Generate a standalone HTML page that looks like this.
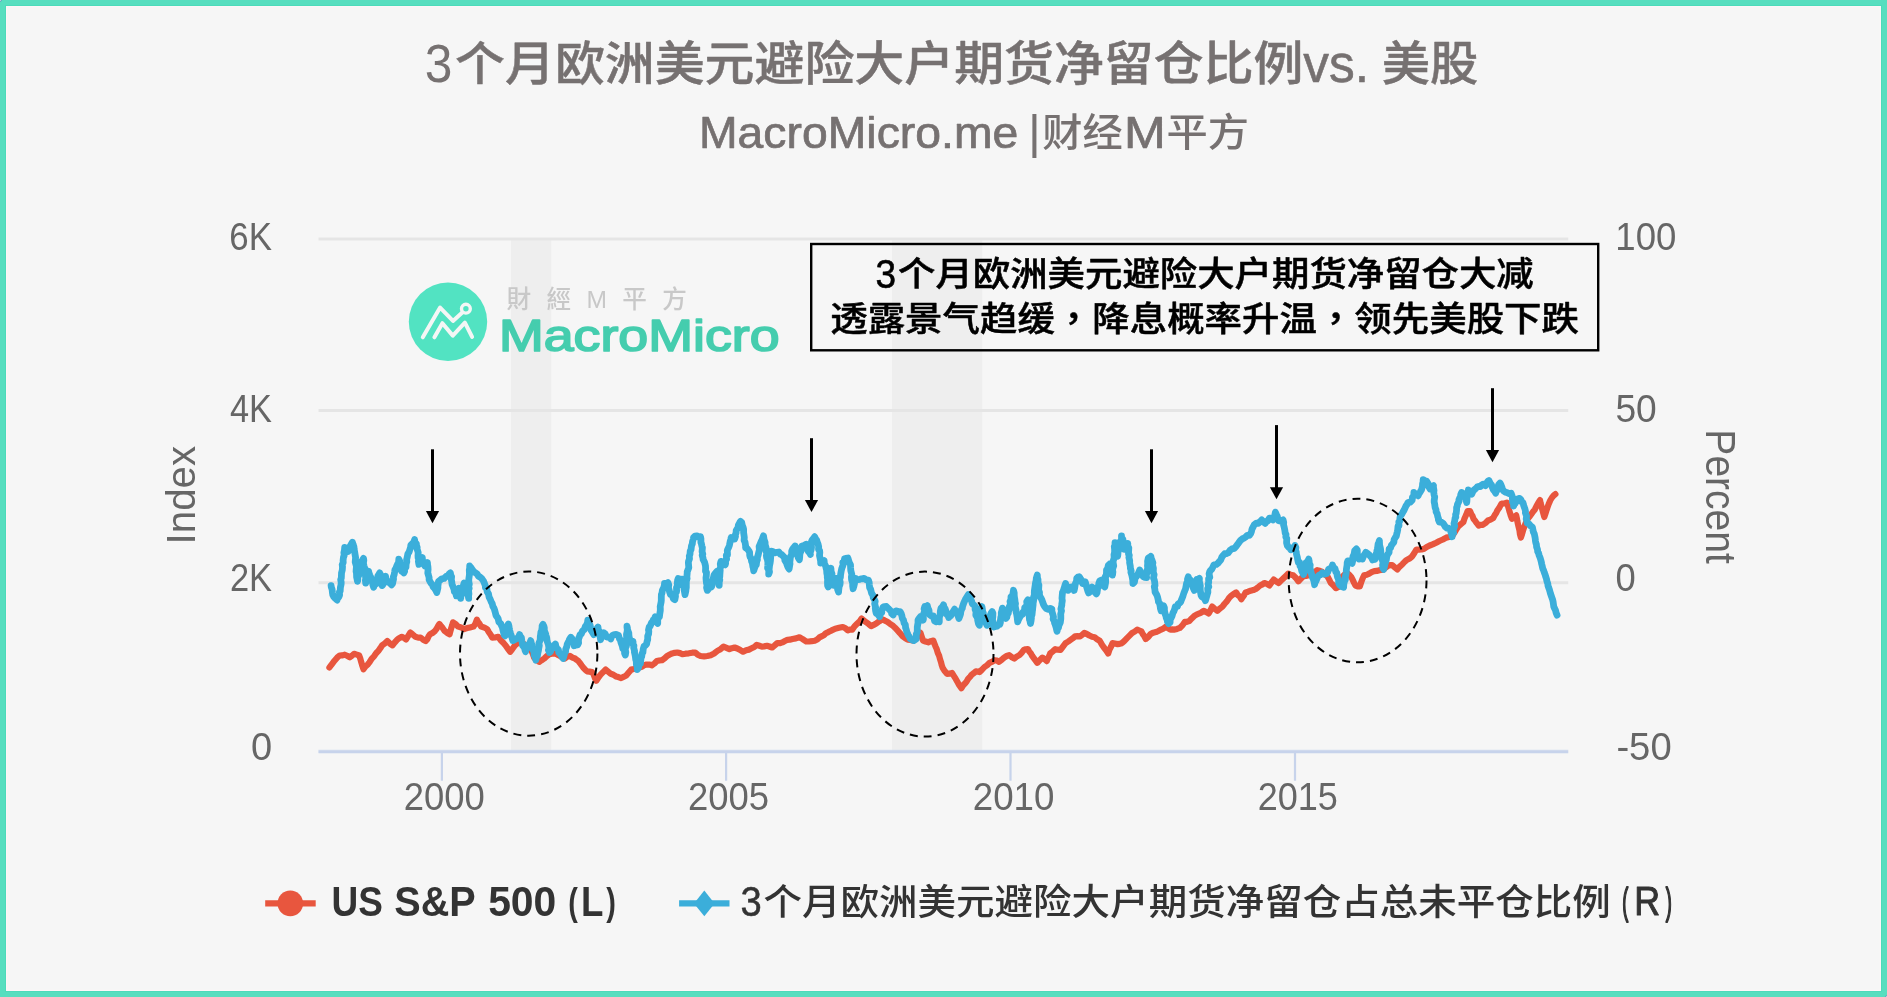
<!DOCTYPE html>
<html lang="zh-CN"><head><meta charset="utf-8"><title>3个月欧洲美元避险大户期货净留仓比例vs. 美股</title>
<style>html,body{margin:0;padding:0;background:#57DEBF}svg{display:block;will-change:transform}text{font-family:'Liberation Sans','Noto Sans CJK SC',sans-serif}</style></head><body>
<svg width="1887" height="997" viewBox="0 0 1887 997">
<rect x="0" y="0" width="1887" height="997" fill="#57DEBF"/>
<rect x="5.5" y="5.5" width="1876" height="986" fill="none" stroke="#4CDBBA" stroke-width="1"/>
<rect x="6" y="6" width="1875" height="985" fill="#FCF6F8"/>
<rect x="7.2" y="7.2" width="1872.6" height="982.6" fill="#F6F6F6"/>
<circle cx="0" cy="0" r="1.4" fill="#fff" stroke="#5B8DB8" stroke-width="0.9"/>
<circle cx="1887" cy="997" r="1.4" fill="#fff" stroke="#5B8DB8" stroke-width="0.9"/>
<text x="424.86" y="82.00" font-size="54.45" fill="#767171" textLength="27.63" lengthAdjust="spacingAndGlyphs">3</text>
<text x="455.11" y="80.00" font-size="46.30" font-weight="500" fill="#767171" stroke="#767171" stroke-width="0.45" stroke-linejoin="round" textLength="848.34" lengthAdjust="spacingAndGlyphs">个月欧洲美元避险大户期货净留仓比例</text>
<text x="1303.21" y="82.00" font-size="53.00" fill="#767171" stroke="#767171" stroke-width="0.60" stroke-linejoin="round" textLength="65.79" lengthAdjust="spacingAndGlyphs">vs.</text>
<text x="1381.66" y="80.00" font-size="46.30" font-weight="500" fill="#767171" stroke="#767171" stroke-width="0.45" stroke-linejoin="round" textLength="96.59" lengthAdjust="spacingAndGlyphs">美股</text>
<text x="699.00" y="148.00" font-size="44.00" fill="#767171" stroke="#767171" stroke-width="0.70" stroke-linejoin="round" textLength="319.28" lengthAdjust="spacingAndGlyphs">MacroMicro.me</text>
<text x="1027.95" y="148.00" font-size="47.01" fill="#767171" textLength="12.81" lengthAdjust="spacingAndGlyphs">|</text>
<text x="1042.34" y="146.00" font-size="38.90" font-weight="500" fill="#767171" textLength="80.43" lengthAdjust="spacingAndGlyphs">财经</text>
<text x="1123.95" y="148.00" font-size="44.00" fill="#767171" stroke="#767171" stroke-width="0.70" stroke-linejoin="round" textLength="41.73" lengthAdjust="spacingAndGlyphs">M</text>
<text x="1166.45" y="146.00" font-size="38.26" font-weight="500" fill="#767171" textLength="82.43" lengthAdjust="spacingAndGlyphs">平方</text>
<rect x="511" y="240" width="40.2" height="510.5" fill="#EEEEEE"/>
<rect x="892" y="240" width="90.3" height="510.5" fill="#EEEEEE"/>
<line x1="318.5" y1="238.9" x2="1568.2" y2="238.9" stroke="#E5E5E5" stroke-width="3"/>
<line x1="318.5" y1="410.6" x2="1568.2" y2="410.6" stroke="#E5E5E5" stroke-width="3"/>
<line x1="318.5" y1="582.8" x2="1568.2" y2="582.8" stroke="#E5E5E5" stroke-width="3"/>
<line x1="318.5" y1="751.6" x2="1568.2" y2="751.6" stroke="#C7D3EB" stroke-width="4.2" stroke-opacity="0.35"/>
<line x1="318.5" y1="751.6" x2="1568.2" y2="751.6" stroke="#C7D3EB" stroke-width="2.6"/>
<line x1="441.9" y1="751.6" x2="441.9" y2="780.7" stroke="#C7D3EB" stroke-width="2.2"/>
<line x1="726.1" y1="751.6" x2="726.1" y2="780.7" stroke="#C7D3EB" stroke-width="2.2"/>
<line x1="1010.5" y1="751.6" x2="1010.5" y2="780.7" stroke="#C7D3EB" stroke-width="2.2"/>
<line x1="1295.0" y1="751.6" x2="1295.0" y2="780.7" stroke="#C7D3EB" stroke-width="2.2"/>
<text x="229.26" y="250.00" font-size="38.00" fill="#666" textLength="42.65" lengthAdjust="spacingAndGlyphs">6K</text>
<text x="230.01" y="422.00" font-size="38.00" fill="#666" textLength="41.99" lengthAdjust="spacingAndGlyphs">4K</text>
<text x="229.91" y="591.00" font-size="38.00" fill="#666" textLength="42.11" lengthAdjust="spacingAndGlyphs">2K</text>
<text x="251.00" y="760.00" font-size="38.00" fill="#666" textLength="21.14" lengthAdjust="spacingAndGlyphs">0</text>
<text x="1615.31" y="250.00" font-size="38.00" fill="#666" textLength="61.04" lengthAdjust="spacingAndGlyphs">100</text>
<text x="1615.38" y="422.00" font-size="38.00" fill="#666" textLength="41.36" lengthAdjust="spacingAndGlyphs">50</text>
<text x="1615.49" y="591.00" font-size="38.00" fill="#666" textLength="20.24" lengthAdjust="spacingAndGlyphs">0</text>
<text x="1616.40" y="760.00" font-size="38.00" fill="#666" textLength="55.26" lengthAdjust="spacingAndGlyphs">-50</text>
<text x="403.80" y="810.00" font-size="38.00" fill="#666" textLength="81.06" lengthAdjust="spacingAndGlyphs">2000</text>
<text x="687.89" y="810.00" font-size="38.00" fill="#666" textLength="81.04" lengthAdjust="spacingAndGlyphs">2005</text>
<text x="972.76" y="810.00" font-size="38.00" fill="#666" textLength="81.62" lengthAdjust="spacingAndGlyphs">2010</text>
<text x="1257.64" y="810.00" font-size="38.00" fill="#666" textLength="80.17" lengthAdjust="spacingAndGlyphs">2015</text>
<text transform="translate(195.4 495.2) rotate(-90)" font-size="40.5" fill="#666666" text-anchor="middle" textLength="98.5" lengthAdjust="spacingAndGlyphs">Index</text>
<text transform="translate(1706.3 496.6) rotate(90)" font-size="42.5" fill="#666666" text-anchor="middle" textLength="134.5" lengthAdjust="spacingAndGlyphs">Percent</text>
<g id="logo">
<circle cx="448" cy="321.8" r="39.2" fill="#52E3C2"/>
<polyline points="422.8,337.3 440.1,307.6 453,320.9 462.3,312.6" fill="none" stroke="#F4F6F5" stroke-width="4" stroke-linecap="round" stroke-linejoin="round"/>
<polyline points="434.4,337.3 442.4,323.2 452.8,335.6 464.9,322.6 472.1,336.9" fill="none" stroke="#F4F6F5" stroke-width="4" stroke-linecap="round" stroke-linejoin="round"/>
<circle cx="465.9" cy="308.7" r="4.4" fill="#52E3C2" stroke="#F4F6F5" stroke-width="3.4"/>
<text x="506.51" y="308.00" font-size="24.60" font-weight="500" fill="#C8C8C8" lang="zh-Hant" style="font-family:'Liberation Sans','Noto Sans CJK TC',sans-serif" textLength="180.27" lengthAdjust="spacing">財經M平方</text>
<text x="498.97" y="351.00" font-size="45.27" fill="#45CDAE" stroke="#45CDAE" stroke-width="1.70" stroke-linejoin="round" textLength="280.63" lengthAdjust="spacingAndGlyphs">MacroMicro</text>
</g>
<polyline points="329.4,667.5 331.0,665.3 332.7,663.1 334.5,660.7 337.1,657.7 339.6,655.5 341.9,655.4 344.7,654.7 347.1,655.8 349.8,657.3 352.2,655.5 354.1,653.8 356.8,654.6 359.2,655.5 360.3,658.6 361.4,662.7 362.4,666.0 363.5,669.2 365.5,666.5 367.5,664.7 369.4,662.4 371.6,658.8 374.2,656.1 376.3,653.0 378.4,650.8 380.3,648.2 382.2,645.3 384.7,643.5 387.3,641.1 389.9,643.6 392.5,645.3 394.8,642.4 396.7,640.2 399.1,638.2 401.8,636.8 404.2,638.0 406.1,639.4 407.6,636.9 409.0,634.7 410.4,632.5 412.9,634.7 415.5,636.8 418.1,637.6 420.6,637.6 423.2,639.7 425.7,641.1 427.3,639.2 428.6,636.2 430.0,634.2 432.7,632.9 435.1,630.8 436.7,628.6 438.1,626.0 439.4,624.0 441.2,626.3 442.7,628.1 444.5,630.8 447.2,632.9 449.6,634.2 450.3,631.5 451.3,627.9 452.1,625.5 453.0,622.3 455.7,624.0 458.1,626.6 461.2,627.4 464.1,629.1 467.1,628.1 470.0,627.4 473.5,626.6 475.4,623.6 476.9,619.7 478.3,622.4 479.6,623.9 481.1,626.6 484.1,627.4 487.1,629.1 488.7,631.9 490.5,634.5 492.2,637.6 495.0,637.5 498.2,636.8 500.7,640.2 503.3,642.8 505.8,645.7 507.9,648.8 510.2,651.7 512.0,649.5 513.6,647.3 515.3,644.9 518.1,642.8 520.5,640.6 523.0,643.3 525.6,645.7 528.0,647.2 530.7,649.1 532.0,652.0 533.0,654.3 534.1,657.6 536.6,659.8 539.2,661.9 541.5,660.3 544.3,658.5 546.9,656.0 549.4,654.2 552.1,653.8 554.6,653.4 557.2,654.5 559.7,655.9 562.3,657.4 564.8,658.5 567.1,656.8 569.9,655.9 572.5,657.6 575.0,658.5 576.6,659.8 578.4,661.1 580.1,663.2 581.7,665.5 583.5,667.9 585.2,669.7 587.0,671.3 589.5,671.6 592.1,672.1 593.6,674.5 594.9,678.0 596.3,680.7 598.4,677.5 600.6,674.7 603.3,671.9 605.7,669.6 608.1,671.6 610.8,673.8 613.4,674.7 615.9,676.4 618.4,677.1 621.1,678.1 623.8,676.7 626.2,675.5 628.9,672.3 631.3,669.6 633.8,668.9 636.4,667.9 639.1,667.4 641.5,667.0 643.9,665.4 646.6,664.5 649.2,664.6 651.7,665.3 654.4,663.5 656.9,661.1 659.3,660.5 662.0,660.2 664.7,658.2 667.1,655.9 669.8,654.5 672.2,653.4 674.6,652.8 677.3,652.5 680.0,653.1 682.4,654.2 685.6,653.7 688.8,653.3 692.3,652.7 695.3,652.6 697.7,654.7 700.5,656.0 704.1,656.4 707.3,656.0 710.7,655.2 714.1,653.5 717.4,650.9 720.5,649.2 723.5,646.6 726.5,647.9 729.4,649.2 731.9,648.2 734.6,647.5 737.3,648.5 740.3,650.1 743.1,651.7 746.1,650.2 748.9,649.6 751.6,648.3 754.3,647.0 756.7,644.9 759.4,645.8 761.8,646.6 764.2,646.4 767.0,645.8 769.4,646.5 772.1,647.5 774.7,645.4 777.2,643.2 779.7,643.2 782.3,642.4 784.9,641.0 787.4,639.8 789.8,639.7 792.5,639.0 795.9,638.4 799.4,637.3 802.7,639.1 806.2,641.5 809.0,641.5 811.7,641.2 814.7,640.7 817.2,639.5 819.4,637.4 821.5,636.4 823.8,635.3 825.8,633.3 828.3,632.1 831.6,630.4 835.2,628.7 839.0,627.8 842.8,627.0 845.5,628.3 847.9,630.4 849.8,629.7 852.2,629.6 854.6,626.2 857.3,623.6 859.7,621.4 861.6,618.5 863.5,620.2 865.8,621.9 868.4,623.8 871.1,626.1 873.6,624.9 876.2,623.5 879.2,621.3 882.2,619.3 884.6,620.4 887.3,621.8 889.7,623.6 892.4,625.3 895.0,627.7 897.5,630.4 899.9,633.1 902.6,636.3 905.1,638.1 907.7,639.7 910.4,640.0 912.9,640.6 915.6,638.2 918.0,635.5 920.5,632.9 921.3,635.4 922.2,638.2 923.1,640.6 925.6,641.6 928.2,642.3 930.7,641.2 933.3,640.6 934.4,643.6 935.4,646.2 936.7,649.1 937.8,652.9 939.2,655.9 940.1,659.4 941.1,662.5 941.7,665.0 942.7,667.9 944.7,671.1 947.0,673.8 949.6,673.7 952.1,673.0 953.9,676.0 955.6,678.7 957.2,681.5 959.1,685.0 961.4,688.3 962.9,685.7 965.0,683.4 966.6,681.5 968.1,678.9 970.2,676.7 971.7,674.7 973.6,673.3 975.9,671.3 979.4,672.1 981.8,669.9 984.5,667.0 987.1,665.2 989.6,662.8 992.4,661.6 994.7,660.2 997.0,660.6 999.0,661.9 1001.7,659.8 1004.1,657.6 1006.7,656.0 1009.2,655.1 1011.9,657.2 1014.3,658.5 1016.7,656.6 1019.4,655.1 1021.6,652.8 1023.7,650.0 1025.7,649.3 1027.9,649.1 1029.2,651.5 1030.9,653.5 1032.2,655.9 1033.8,658.1 1035.5,660.4 1037.3,662.8 1039.7,660.2 1042.4,657.6 1044.8,659.3 1046.7,661.1 1048.0,658.3 1049.1,656.3 1050.2,653.5 1052.8,651.4 1055.3,649.2 1057.9,649.7 1060.5,650.0 1062.4,647.4 1063.7,645.7 1065.6,643.2 1068.3,641.5 1070.7,639.8 1072.8,638.3 1075.0,636.4 1077.4,636.2 1080.1,636.4 1082.1,634.8 1084.3,633.0 1086.8,634.0 1089.4,635.5 1092.1,636.8 1094.6,637.3 1097.1,639.2 1099.7,640.7 1101.8,644.4 1103.9,647.5 1106.1,650.3 1108.2,653.5 1109.5,649.6 1111.1,646.5 1112.5,643.2 1114.9,643.5 1117.6,644.1 1119.6,643.9 1121.8,643.2 1124.2,641.1 1127.0,638.1 1129.5,635.6 1132.1,633.0 1134.6,631.6 1137.2,629.6 1139.4,630.5 1141.4,631.3 1142.8,634.1 1144.4,636.3 1145.7,639.0 1148.4,636.8 1150.8,633.8 1153.3,632.7 1155.9,632.1 1158.4,631.0 1161.1,629.6 1163.3,628.7 1165.3,627.0 1168.0,628.1 1170.4,629.6 1172.4,629.4 1174.7,629.6 1177.1,628.9 1179.8,627.9 1182.5,625.3 1184.9,621.9 1186.9,621.8 1189.2,621.1 1191.7,618.4 1194.3,615.9 1197.0,614.3 1199.4,613.4 1201.4,612.4 1203.7,610.8 1206.2,612.0 1208.8,613.4 1210.5,610.2 1212.2,606.6 1214.5,608.6 1217.3,610.8 1219.8,608.7 1222.4,606.6 1224.4,604.0 1227.0,601.1 1228.9,598.2 1231.1,595.8 1233.5,594.2 1236.2,592.4 1237.7,595.0 1239.8,596.6 1241.3,599.2 1242.9,596.8 1244.3,594.9 1245.6,592.4 1248.1,591.7 1250.7,590.7 1253.3,590.1 1255.8,589.0 1257.8,587.5 1260.1,585.5 1262.4,584.4 1264.3,583.0 1266.9,583.9 1269.4,585.5 1271.5,582.4 1273.7,579.6 1276.3,581.5 1278.8,583.0 1281.4,580.2 1283.9,577.9 1286.1,575.9 1288.2,573.6 1290.6,574.8 1293.3,575.3 1295.9,578.0 1298.4,581.3 1301.1,578.4 1303.5,576.2 1306.0,575.9 1308.7,575.3 1311.3,574.1 1313.8,572.8 1315.6,571.5 1317.2,570.2 1319.7,570.8 1322.3,571.9 1324.7,574.2 1327.4,576.2 1329.2,579.6 1330.8,583.0 1333.5,585.4 1335.9,588.1 1339.4,586.4 1340.4,582.9 1341.8,579.2 1342.8,576.2 1344.9,574.3 1347.0,572.8 1349.3,574.8 1351.3,577.0 1352.6,579.7 1354.1,582.9 1355.5,585.5 1357.6,586.3 1359.8,586.4 1361.1,582.5 1362.5,578.7 1364.1,575.3 1366.8,574.7 1369.2,573.6 1371.6,572.1 1374.3,571.1 1376.8,570.9 1379.4,570.2 1381.7,570.0 1383.7,569.4 1385.8,567.3 1387.9,565.9 1390.0,565.2 1392.2,565.1 1394.8,567.3 1397.3,569.4 1399.7,566.6 1402.4,564.2 1404.9,561.5 1407.1,559.7 1409.8,558.4 1412.2,556.3 1414.5,552.8 1416.4,549.5 1419.0,549.6 1421.5,549.5 1424.2,548.7 1426.7,547.0 1429.7,545.5 1432.6,544.4 1436.2,542.7 1439.4,541.0 1442.9,539.5 1446.3,537.6 1449.0,537.0 1452.2,535.9 1454.3,532.8 1456.2,529.6 1458.2,526.5 1460.6,524.4 1463.3,522.2 1464.5,518.5 1466.2,514.8 1467.6,511.2 1470.1,511.2 1471.3,514.1 1472.5,515.9 1473.5,518.8 1475.4,521.2 1476.8,523.2 1478.7,525.6 1480.7,524.8 1482.9,524.8 1485.5,523.0 1488.0,520.5 1490.5,519.6 1493.2,518.0 1494.7,515.1 1496.2,513.0 1497.4,510.3 1499.0,508.2 1500.4,505.6 1501.7,503.5 1504.4,503.4 1506.8,502.6 1507.8,505.4 1508.6,508.3 1509.4,511.2 1510.1,513.3 1510.9,516.0 1511.9,518.8 1513.9,517.1 1516.2,515.4 1516.9,518.4 1517.4,521.5 1518.0,524.3 1518.7,527.3 1519.5,530.6 1520.0,534.5 1520.9,537.6 1522.0,534.3 1522.8,531.4 1523.8,528.2 1525.1,524.6 1526.4,521.4 1527.9,518.6 1529.8,516.3 1531.6,513.7 1533.2,511.4 1534.9,509.4 1536.5,506.0 1538.3,502.9 1540.0,500.1 1540.6,503.1 1541.6,506.9 1542.4,509.9 1543.4,513.6 1544.3,517.1 1545.5,513.5 1546.4,510.6 1547.3,507.9 1548.6,504.3 1550.2,500.5 1552.0,497.5 1553.7,495.5 1555.4,494.1" fill="none" stroke="#E8563E" stroke-width="6.2" stroke-linejoin="round" stroke-linecap="round"/>
<polyline points="331.1,585.6 331.3,587.2 332.1,589.4 332.4,592.4 332.8,595.0 333.7,596.7 335.2,598.3 337.1,600.1 337.5,597.5 338.7,597.4 339.6,595.0 339.4,592.0 340.2,591.1 340.4,587.5 341.1,584.3 341.2,582.4 340.7,579.6 341.3,578.0 341.4,576.1 341.5,573.1 342.3,570.0 342.5,566.8 342.2,564.6 343.2,562.5 343.1,560.3 343.5,557.1 344.2,555.4 343.9,552.6 344.4,550.7 344.7,547.3 346.1,548.2 347.5,549.3 348.1,551.5 349.1,549.7 349.9,546.8 350.8,544.9 352.4,542.2 353.2,544.7 353.9,546.6 354.2,549.5 354.6,551.6 355.0,554.1 355.6,557.6 355.4,559.4 355.2,562.0 356.1,565.1 356.5,566.0 356.2,569.4 356.1,571.4 356.5,573.1 356.6,577.0 356.9,578.4 357.5,581.4 357.8,580.0 357.8,576.9 358.7,575.6 359.3,573.4 359.1,570.2 359.6,569.0 360.1,566.0 361.5,563.3 361.4,561.6 362.4,560.3 363.5,558.4 363.8,560.3 363.4,563.2 364.0,566.0 364.9,568.7 364.6,571.0 365.0,572.2 365.5,576.3 365.7,578.8 365.4,580.4 365.7,583.1 365.8,581.0 366.4,577.4 367.1,575.2 367.8,572.6 368.6,571.2 368.9,572.7 369.9,575.4 371.2,578.0 371.3,581.1 372.6,581.9 372.8,584.6 373.7,587.3 374.7,584.2 376.4,583.9 377.1,580.5 377.7,578.6 377.9,575.8 378.9,574.3 379.7,572.9 380.6,574.7 380.2,579.0 381.2,579.7 381.7,582.0 382.2,585.6 383.1,584.3 384.3,581.4 384.5,578.3 385.6,576.3 386.1,578.9 387.4,580.8 388.2,582.2 389.7,582.9 391.6,584.8 392.5,583.8 393.0,581.4 393.5,579.2 393.4,576.7 394.2,574.6 394.7,571.4 394.9,569.8 395.8,568.6 396.7,566.0 397.9,563.6 398.6,562.5 398.8,559.2 399.8,561.3 399.6,563.4 400.1,565.7 401.1,569.7 401.5,571.2 403.1,572.0 403.9,572.9 404.6,571.4 404.5,569.0 406.0,567.1 406.1,564.3 406.8,561.7 406.6,559.8 407.2,557.3 407.8,554.1 409.2,551.8 409.4,551.0 410.6,547.3 410.8,545.2 412.1,543.9 413.8,542.4 414.6,539.6 414.9,542.2 416.4,543.8 416.4,545.5 417.2,547.3 417.0,548.7 418.2,552.5 418.0,555.5 418.1,557.8 418.8,558.8 418.4,561.4 418.9,564.3 419.7,562.2 420.9,559.6 422.3,557.5 422.5,560.5 423.4,561.7 424.3,564.8 424.9,566.0 426.1,565.2 427.4,562.6 427.6,565.1 427.9,566.4 428.1,569.2 427.8,573.0 428.3,574.8 429.1,577.4 429.1,579.7 430.0,581.4 431.4,583.7 432.5,584.8 433.1,586.9 434.4,588.2 436.0,590.6 436.8,592.5 437.2,590.9 437.9,587.9 437.9,585.9 438.2,584.0 438.5,581.4 440.1,580.2 441.9,578.8 444.0,578.5 446.2,576.3 447.8,576.0 449.5,573.5 450.4,572.9 450.9,576.1 451.6,576.6 451.3,579.6 451.7,581.4 452.1,584.6 453.0,586.5 454.2,589.7 454.3,591.7 455.7,592.8 456.4,595.9 457.5,595.0 457.4,593.0 458.2,590.1 459.0,588.2 460.0,591.5 459.5,593.1 460.3,595.5 460.7,598.4 460.9,595.8 461.9,593.0 462.2,591.7 462.1,589.3 463.3,587.5 463.1,586.4 464.1,583.1 465.3,585.8 465.3,586.0 466.6,588.2 466.5,590.9 467.2,591.5 467.8,595.2 468.6,595.8 468.7,598.4 468.4,596.8 468.9,593.9 468.5,589.9 469.2,588.3 468.6,586.9 469.3,584.1 468.8,581.7 468.8,579.3 469.3,575.6 469.5,574.4 469.3,570.2 469.7,567.9 469.7,566.0 470.5,567.0 471.7,568.8 473.5,571.2 475.0,572.5 477.2,574.1 478.6,576.3 480.3,577.3 481.8,578.6 483.7,581.4 484.1,582.4 485.3,585.6 485.4,587.5 486.9,588.7 487.1,591.6 488.5,593.8 489.1,597.1 490.0,598.8 491.4,602.2 492.2,603.5 492.9,606.5 494.1,608.4 494.6,610.0 495.1,611.8 496.0,615.4 497.3,617.2 498.1,618.5 498.9,622.0 500.8,623.7 501.1,624.8 502.4,627.4 502.8,629.4 503.3,631.5 504.1,634.8 505.0,635.9 506.2,633.6 506.1,632.2 506.8,628.4 507.2,626.1 508.4,624.0 509.0,626.4 509.3,628.8 509.7,630.6 510.5,633.3 511.0,634.8 512.0,637.6 512.8,640.6 514.6,639.8 516.2,638.9 517.6,637.8 518.7,636.9 519.6,634.6 520.1,636.1 521.4,637.7 521.8,640.7 522.2,642.3 522.5,645.4 524.3,647.3 525.0,650.0 525.6,651.7 526.0,649.5 527.3,647.9 528.1,644.9 529.7,643.5 530.7,640.6 531.5,643.8 532.3,645.8 532.4,646.7 533.0,649.8 534.1,652.5 534.1,655.2 535.0,656.6 535.5,658.7 535.8,660.2 536.4,656.8 537.4,656.0 537.8,653.2 538.4,650.8 538.9,647.5 539.3,645.6 538.9,643.3 539.9,640.8 540.2,640.2 540.3,636.5 540.6,634.8 540.9,632.1 541.7,630.4 542.1,627.3 542.1,625.8 543.0,624.4 543.9,626.2 544.3,627.8 544.3,630.6 545.6,633.7 546.0,635.5 546.7,637.5 547.0,640.3 547.4,641.9 548.4,644.6 549.0,648.6 548.4,650.0 549.4,652.5 550.6,651.6 551.1,648.1 552.0,646.6 553.4,646.3 555.4,644.0 555.9,646.3 556.7,648.3 558.4,649.6 558.8,652.5 560.6,654.5 562.1,656.9 563.1,658.5 563.6,657.1 564.8,652.9 565.6,651.7 565.7,649.3 566.8,646.6 567.2,644.3 568.2,642.3 568.9,641.3 569.4,639.5 570.8,637.2 572.0,638.5 573.0,641.9 573.8,643.1 574.2,645.7 575.8,645.1 577.6,644.9 578.6,643.0 578.4,640.6 578.9,637.7 579.2,637.4 580.1,634.6 581.3,633.9 582.7,630.7 584.4,629.5 585.3,626.5 586.0,625.8 587.4,623.1 587.8,620.1 588.6,623.1 589.6,624.3 590.1,625.3 590.8,628.2 591.2,630.4 592.8,632.8 593.8,634.6 594.6,631.7 596.4,630.0 596.9,628.6 598.0,627.0 598.3,630.1 599.6,631.6 599.7,634.2 600.1,636.9 600.6,639.7 601.4,636.7 602.5,636.1 604.0,632.9 605.1,633.7 606.7,636.9 607.4,637.2 609.0,637.3 610.8,638.9 611.6,636.6 612.9,635.1 614.2,634.6 616.1,634.5 618.5,635.5 619.4,638.7 620.5,640.0 621.0,642.6 621.9,644.9 622.4,646.6 622.8,648.5 624.5,650.2 624.6,653.3 625.3,655.1 625.8,652.1 625.3,649.7 625.6,647.7 626.4,646.2 626.4,642.0 625.6,641.1 626.7,638.1 626.5,634.7 626.5,634.3 627.1,631.7 627.4,628.0 627.0,626.1 627.0,627.5 627.9,630.8 628.8,633.0 628.9,635.2 629.1,636.9 629.6,638.9 630.8,640.8 633.0,641.4 633.1,644.6 633.9,645.6 633.7,647.8 634.6,651.1 634.4,652.0 635.2,655.5 635.5,657.6 635.7,659.4 636.3,661.3 636.4,664.7 637.4,667.5 637.3,669.6 638.6,667.4 638.7,664.8 640.4,663.7 640.7,661.1 641.0,657.6 641.7,656.7 642.1,653.4 642.9,652.4 643.2,649.1 644.0,646.4 645.3,645.5 646.6,644.0 647.2,640.9 647.7,639.7 647.7,636.1 648.6,633.9 648.8,631.3 648.5,630.0 649.2,627.0 650.1,626.3 651.5,622.8 652.6,621.8 653.2,619.9 654.5,619.4 655.2,616.7 655.6,618.7 656.6,622.3 657.7,623.5 657.7,620.0 658.1,618.2 659.4,616.7 659.7,614.4 660.3,610.4 660.3,608.2 660.2,606.6 661.1,602.1 661.3,600.3 661.3,597.6 661.4,594.4 662.0,592.9 662.4,590.2 663.8,587.4 664.4,585.2 664.5,583.5 666.0,583.8 667.9,582.6 668.8,584.9 668.4,587.3 669.3,590.7 669.6,591.9 670.5,594.6 672.4,595.3 673.3,598.7 674.8,599.7 675.5,596.3 675.0,594.0 676.4,592.1 676.6,591.1 676.5,587.4 677.6,585.8 677.2,583.6 677.6,580.3 678.2,578.4 679.8,579.4 682.4,579.2 683.2,581.7 683.6,582.6 683.2,585.7 684.4,589.0 684.1,589.7 684.6,592.4 685.0,594.6 685.8,591.3 685.9,590.0 686.3,587.5 686.3,584.0 686.3,581.5 687.1,578.4 686.8,577.3 687.2,573.2 687.2,571.7 687.9,570.1 688.8,567.6 688.4,563.0 688.5,561.4 689.5,558.7 689.3,556.1 690.0,554.1 690.2,551.2 691.0,549.7 691.5,545.8 692.3,543.9 692.5,541.8 693.3,539.1 693.6,537.5 695.1,536.1 697.1,535.8 698.4,537.1 700.5,536.7 700.9,538.7 700.9,542.5 701.3,543.2 702.0,546.5 702.4,547.7 702.1,551.6 702.8,554.2 702.2,555.2 703.0,558.0 703.1,559.4 704.6,562.3 705.0,563.8 705.5,566.0 705.6,568.2 705.5,571.3 706.5,572.3 706.3,575.9 706.0,577.8 706.1,579.9 706.5,583.2 707.1,584.8 706.6,587.6 707.3,590.4 708.9,588.6 709.9,587.5 711.5,587.0 712.3,584.7 712.1,581.3 712.9,579.9 713.7,576.5 714.1,575.0 715.0,573.7 716.7,571.6 717.0,573.4 717.3,577.2 717.7,578.6 718.2,580.5 719.2,584.1 719.2,585.3 719.2,582.2 719.8,579.9 719.2,579.0 719.8,576.4 719.9,574.2 720.2,570.2 719.9,568.7 720.7,567.1 720.3,564.1 720.9,561.4 722.2,562.5 723.4,563.2 725.2,564.8 725.6,563.5 725.5,560.4 726.6,559.2 726.3,555.2 727.5,554.8 727.3,550.6 727.7,549.4 728.9,546.8 729.5,544.9 730.2,541.5 730.8,539.3 731.2,537.5 732.8,539.1 734.6,539.2 735.5,536.5 735.3,534.9 736.1,532.8 736.2,530.5 737.1,529.0 738.2,527.9 738.3,525.3 739.9,522.2 740.5,521.3 741.7,522.5 742.3,525.4 743.1,527.3 743.6,529.4 743.6,532.6 744.0,535.3 744.3,537.4 744.1,540.3 745.0,542.0 745.6,545.8 745.6,547.7 747.3,548.7 749.1,551.2 749.6,552.4 749.7,555.1 750.2,557.2 751.1,558.3 751.6,561.4 752.3,562.8 752.9,566.7 753.2,567.5 753.7,570.8 754.5,568.2 755.7,565.3 756.3,564.8 756.7,561.4 757.4,559.7 757.3,557.6 758.1,555.1 759.1,550.9 759.4,550.1 759.1,546.4 760.1,544.3 761.2,541.4 762.2,539.6 763.0,537.1 763.5,535.8 764.0,539.1 764.2,540.0 765.1,542.5 765.1,544.6 766.1,547.7 766.0,551.1 766.8,553.4 766.4,555.6 766.6,557.4 767.4,559.4 767.9,562.3 767.8,565.4 767.6,568.1 768.4,569.1 768.8,571.3 768.7,574.2 769.5,571.8 769.1,569.7 769.5,565.8 770.1,563.0 770.4,560.9 770.5,559.9 770.7,556.7 770.7,552.7 771.2,551.2 772.4,551.3 774.6,552.9 776.9,552.3 778.9,552.0 780.3,554.3 781.4,554.3 783.2,556.3 784.5,557.5 784.9,560.5 786.6,563.1 787.0,564.8 788.0,567.3 789.1,569.1 789.6,565.9 790.0,563.9 789.8,562.4 790.3,558.1 790.5,556.6 791.7,554.4 791.7,551.2 792.7,548.9 793.4,548.1 795.1,546.0 795.9,548.0 796.7,550.4 797.7,553.4 797.7,556.0 798.2,557.5 799.4,559.7 799.7,556.8 799.7,555.7 800.1,553.0 801.6,549.8 801.2,548.5 801.9,546.0 804.1,545.5 806.2,544.3 807.4,545.6 807.7,548.0 808.2,551.3 809.9,553.0 810.4,554.6 810.1,552.9 811.2,549.7 811.5,547.2 811.2,544.1 811.5,541.5 812.1,540.1 813.2,538.9 814.7,536.7 815.8,539.4 816.6,540.0 817.3,542.3 818.1,544.3 818.7,546.7 818.5,549.3 819.6,550.7 819.8,552.6 819.5,555.5 820.3,559.4 820.6,560.4 820.7,563.1 822.8,561.4 824.1,560.5 824.4,563.7 825.5,565.6 826.2,568.6 826.6,569.9 826.8,573.1 827.3,575.6 827.3,577.7 827.6,579.2 827.5,582.4 827.6,585.5 828.3,587.0 828.2,583.6 828.5,583.2 829.1,579.2 829.1,576.6 830.1,575.5 830.5,573.4 830.1,570.7 830.9,568.2 831.1,571.3 832.0,573.9 831.5,576.3 832.8,578.9 832.3,579.8 832.7,581.8 833.5,585.3 834.7,583.7 835.3,581.4 836.0,578.4 836.6,580.2 836.4,582.1 837.6,584.6 837.5,587.4 837.6,589.3 838.6,592.1 838.7,590.0 839.1,586.6 840.0,584.4 840.2,582.1 839.6,579.1 840.4,577.3 840.6,574.6 841.1,571.6 841.7,568.8 842.6,566.4 843.2,564.5 842.8,562.4 844.2,562.0 844.5,558.8 845.7,558.4 847.9,558.0 848.8,560.9 849.3,562.5 850.5,564.8 850.6,567.9 850.8,570.6 851.0,571.3 851.8,574.4 851.4,577.1 851.6,579.8 852.5,582.2 852.7,583.6 852.7,586.1 853.1,588.7 854.0,585.7 854.5,583.5 854.3,582.0 855.5,580.5 855.6,578.4 857.6,579.7 859.9,579.3 861.7,578.8 864.1,578.4 866.3,579.8 868.4,580.1 869.2,582.6 869.3,584.2 869.6,587.5 870.7,589.5 871.1,591.2 871.6,593.2 873.1,595.6 873.2,597.5 874.5,599.7 875.2,601.4 874.7,603.8 875.6,607.3 875.3,608.0 875.6,610.7 876.2,613.3 877.9,614.3 879.6,616.7 880.3,613.7 881.8,612.5 881.7,610.7 883.0,607.3 884.3,606.6 886.4,606.5 888.6,608.8 889.8,609.9 891.2,611.5 891.7,613.6 893.2,615.0 893.9,613.0 895.4,611.2 896.7,610.8 898.3,611.8 900.1,611.6 901.2,613.7 901.9,615.8 902.3,618.2 903.5,620.1 904.1,623.0 905.3,624.7 905.6,627.8 906.1,629.1 906.9,632.1 908.3,635.2 909.5,637.1 910.3,638.9 912.4,640.1 913.7,640.6 915.2,639.6 916.3,638.9 916.3,636.8 916.3,634.0 917.2,632.3 917.3,629.0 917.3,627.1 917.7,624.6 918.0,623.4 918.0,620.1 918.9,618.7 920.5,616.7 922.1,618.2 923.1,620.1 923.4,618.9 923.2,615.7 923.6,613.9 924.7,611.1 924.1,608.9 924.8,606.5 926.1,606.5 927.3,605.6 928.0,608.3 929.0,610.3 929.2,613.6 929.9,615.0 931.3,615.9 933.3,615.9 934.0,618.4 934.6,620.9 935.9,621.8 937.4,620.8 939.3,621.8 939.3,619.3 939.3,617.1 940.1,615.4 940.3,612.2 940.4,611.0 941.0,608.2 942.7,606.6 943.5,604.8 944.1,607.7 945.1,608.7 946.1,611.6 946.6,614.2 948.2,615.9 948.7,617.6 949.8,616.3 950.7,615.8 952.1,613.3 953.2,611.5 954.6,609.1 956.0,612.1 956.7,613.3 957.9,615.3 958.9,618.4 959.9,616.0 960.6,613.8 960.8,611.7 961.5,609.5 962.3,608.2 962.6,606.3 963.8,602.9 964.6,601.1 965.7,598.8 966.9,597.0 968.3,594.6 969.6,596.6 971.0,599.9 971.7,601.4 972.3,603.8 974.4,605.4 975.1,606.5 975.1,609.8 976.1,610.5 975.8,615.1 976.8,616.7 977.6,618.3 977.7,620.2 978.5,623.8 979.4,625.3 979.5,622.2 980.5,621.2 980.0,619.1 980.8,616.5 981.1,614.4 981.6,611.9 981.3,609.3 981.9,606.5 982.4,609.3 982.7,611.9 983.3,612.8 983.3,614.8 984.1,616.9 984.5,620.1 985.3,621.1 986.2,623.6 987.0,625.3 987.7,624.0 987.8,621.9 989.0,619.3 989.9,617.8 990.4,615.0 991.1,613.1 992.1,611.6 992.9,613.2 992.8,617.0 992.4,619.5 993.4,622.8 993.3,625.5 993.8,627.0 995.6,626.5 997.3,626.1 999.0,624.2 999.8,624.4 1000.4,622.4 1000.4,620.6 1000.8,617.4 1001.3,615.7 1001.3,612.7 1001.9,610.6 1002.4,608.2 1003.4,609.8 1004.1,612.1 1004.4,613.8 1005.1,617.4 1005.8,618.4 1006.8,617.3 1007.3,614.6 1008.3,613.3 1008.5,611.2 1009.3,609.4 1009.1,607.0 1010.5,604.3 1010.0,601.5 1010.9,599.7 1011.0,596.7 1012.7,595.2 1013.0,593.3 1013.5,590.3 1014.2,592.9 1014.2,595.3 1014.5,597.6 1014.8,599.1 1015.1,602.0 1015.5,603.6 1015.1,605.8 1016.0,610.1 1016.0,611.6 1016.6,613.9 1017.2,617.3 1017.3,618.7 1017.7,621.8 1018.6,619.4 1019.8,617.1 1021.1,615.0 1022.4,614.6 1022.9,612.3 1024.5,610.8 1024.7,607.7 1026.2,606.5 1027.0,604.0 1026.7,601.7 1027.9,599.7 1028.3,603.0 1028.9,604.4 1028.6,606.0 1029.1,608.6 1028.8,610.5 1028.9,614.4 1029.3,617.4 1029.5,619.6 1029.8,620.1 1030.5,623.5 1031.1,620.6 1031.4,618.1 1031.0,617.1 1032.0,614.9 1032.4,610.9 1032.6,609.9 1032.7,608.1 1033.1,604.8 1033.1,603.4 1033.9,598.8 1033.4,597.7 1034.6,594.0 1034.3,593.0 1034.4,590.8 1035.0,586.6 1035.2,585.2 1035.6,582.6 1036.1,580.5 1036.3,578.2 1037.3,575.0 1037.4,577.7 1038.0,579.6 1038.0,582.7 1038.9,585.1 1038.8,586.4 1038.6,590.2 1039.5,592.3 1039.4,594.2 1039.9,596.3 1041.3,598.7 1041.7,599.3 1042.4,601.4 1043.5,604.5 1044.5,606.3 1045.8,608.2 1047.9,609.4 1050.2,608.3 1051.9,609.1 1051.8,610.9 1052.7,613.9 1053.5,616.8 1053.1,619.0 1054.4,621.3 1054.5,622.8 1055.2,624.4 1056.2,627.7 1056.7,630.1 1057.1,631.3 1057.6,628.3 1058.5,627.9 1058.8,625.7 1060.3,622.6 1060.5,621.1 1060.8,618.9 1060.8,615.3 1060.7,614.0 1061.5,610.8 1060.9,609.0 1061.8,605.2 1061.8,604.1 1062.3,600.7 1062.0,598.3 1062.2,595.5 1062.5,592.4 1063.2,591.1 1064.1,588.4 1064.8,585.9 1065.6,583.5 1066.0,584.8 1067.8,587.8 1068.1,590.4 1069.4,589.0 1071.5,587.0 1073.1,587.9 1074.1,590.4 1074.7,587.7 1075.2,584.5 1075.1,584.3 1076.6,580.8 1076.7,578.4 1078.0,577.0 1079.2,576.7 1080.6,578.8 1082.0,581.8 1082.6,583.5 1084.3,583.7 1085.2,581.8 1085.6,583.0 1086.2,585.5 1086.8,587.5 1088.0,591.5 1088.6,592.9 1089.7,591.9 1091.3,588.0 1092.0,587.0 1093.2,588.5 1093.7,591.4 1095.0,592.2 1096.3,593.8 1097.0,592.7 1097.5,589.4 1097.7,586.9 1098.8,586.6 1098.8,583.5 1099.8,580.8 1101.4,580.1 1102.3,582.1 1104.1,585.6 1104.8,587.0 1105.4,583.6 1105.6,582.6 1105.7,580.7 1105.3,576.4 1106.3,575.8 1106.5,571.9 1106.5,569.9 1107.7,568.5 1108.3,565.5 1109.9,563.9 1110.2,565.3 1110.9,567.6 1111.2,569.8 1112.2,571.7 1112.5,575.0 1112.9,571.8 1112.4,571.0 1112.8,568.5 1113.7,565.9 1113.1,562.4 1113.2,561.0 1114.2,557.8 1114.0,554.7 1114.6,552.5 1114.6,549.3 1114.3,546.6 1115.0,545.2 1115.0,542.6 1115.0,545.7 1115.6,547.0 1115.9,548.9 1117.1,551.4 1116.8,554.0 1117.6,556.3 1117.8,554.9 1118.0,552.8 1118.4,550.3 1119.5,546.6 1119.7,544.4 1119.9,542.0 1120.5,541.4 1121.6,539.0 1121.5,535.8 1121.5,537.6 1122.9,539.4 1123.2,542.1 1124.0,543.8 1124.3,546.8 1124.4,549.4 1125.1,546.3 1127.0,545.5 1127.8,543.5 1127.7,545.8 1128.8,547.8 1128.7,550.1 1128.5,554.0 1129.3,555.2 1128.9,557.4 1129.7,560.8 1129.6,562.6 1130.3,566.2 1130.4,568.2 1131.2,570.9 1130.9,572.3 1131.9,575.6 1132.3,577.4 1132.8,580.6 1132.9,583.5 1134.4,582.0 1135.2,577.9 1136.3,576.7 1137.9,574.4 1139.0,571.7 1139.7,569.9 1140.5,572.9 1141.9,573.7 1143.2,576.7 1144.8,577.4 1146.6,577.6 1146.3,575.2 1147.0,572.7 1146.8,570.7 1147.8,568.6 1147.5,565.8 1147.7,563.5 1147.6,561.3 1148.3,558.0 1150.0,557.1 1150.8,556.3 1151.3,558.7 1151.9,560.0 1152.9,562.8 1152.5,564.9 1153.4,568.2 1153.3,571.3 1153.2,572.1 1154.1,574.7 1153.5,578.0 1154.3,580.2 1154.6,581.7 1155.0,585.4 1154.3,586.5 1154.9,589.7 1155.1,592.1 1155.7,593.0 1156.7,594.7 1157.6,597.2 1158.3,600.3 1158.4,601.9 1159.6,603.3 1160.3,607.2 1160.4,608.4 1161.1,610.8 1162.3,609.2 1162.7,608.4 1163.6,605.7 1164.4,607.7 1164.4,610.1 1165.1,613.9 1166.0,616.1 1166.2,617.6 1167.4,620.4 1167.4,621.6 1168.7,623.6 1170.1,622.6 1170.1,619.6 1171.4,617.5 1172.1,615.9 1173.0,612.7 1173.8,611.4 1174.7,609.1 1175.3,606.6 1177.5,606.3 1178.1,604.0 1179.7,602.9 1180.7,602.0 1181.5,599.7 1182.8,596.4 1183.4,594.5 1184.2,592.2 1184.9,590.4 1185.5,589.1 1186.2,585.3 1186.6,583.4 1187.7,580.8 1187.5,579.3 1188.3,576.7 1188.7,578.6 1190.5,580.1 1190.9,581.8 1191.5,583.9 1192.6,585.3 1193.0,587.4 1194.3,590.4 1194.6,588.0 1195.1,585.4 1195.4,583.8 1196.8,581.8 1196.9,579.3 1198.2,579.2 1199.4,578.4 1199.3,581.3 1199.8,583.4 1200.3,585.7 1200.2,587.6 1200.3,590.6 1200.7,593.2 1201.1,595.5 1202.0,596.9 1204.4,598.3 1205.4,600.6 1206.1,598.5 1206.4,597.4 1207.1,594.8 1207.9,592.1 1207.7,588.6 1208.8,586.8 1208.1,584.2 1208.7,582.4 1208.6,578.7 1209.8,577.3 1209.1,573.8 1209.7,571.6 1210.6,570.3 1211.9,569.0 1213.2,566.5 1213.9,564.8 1216.3,564.5 1218.2,563.1 1219.5,561.3 1220.6,560.2 1221.8,557.2 1222.4,556.3 1224.7,553.7 1226.5,553.5 1228.1,552.9 1230.1,550.2 1231.9,548.9 1234.4,548.4 1236.2,546.3 1237.8,544.1 1239.0,542.3 1240.5,540.4 1242.4,538.8 1243.8,538.3 1245.6,537.0 1247.2,535.4 1249.3,535.4 1250.7,533.5 1251.5,531.3 1252.1,528.8 1252.9,527.3 1254.1,525.0 1256.3,523.2 1258.4,523.3 1260.6,521.2 1261.8,519.9 1263.9,522.3 1265.2,523.3 1267.1,520.9 1267.9,520.8 1269.4,518.2 1270.6,518.1 1272.9,519.9 1273.6,518.0 1274.6,516.7 1274.8,515.2 1275.4,512.2 1276.3,514.4 1277.3,516.3 1277.8,518.9 1278.8,520.8 1280.8,521.3 1283.1,519.9 1283.7,522.5 1283.5,524.7 1284.3,527.7 1284.8,530.1 1285.2,533.1 1286.0,534.5 1285.8,537.0 1286.8,538.6 1286.6,541.8 1286.6,542.9 1287.3,545.5 1289.0,547.6 1289.6,547.4 1290.8,549.7 1292.6,548.7 1294.0,548.0 1295.0,545.5 1295.9,547.6 1295.5,549.6 1296.3,552.3 1296.4,553.9 1297.3,557.1 1297.6,559.1 1298.3,562.3 1299.5,562.3 1300.1,566.1 1301.0,567.6 1301.6,570.3 1302.1,571.8 1303.5,574.5 1304.4,572.3 1304.7,569.0 1305.1,567.4 1305.3,565.2 1306.1,562.5 1307.4,561.9 1308.7,559.1 1309.2,561.2 1309.1,562.9 1310.2,565.1 1309.9,567.5 1310.8,571.2 1311.2,572.8 1312.0,575.9 1312.1,576.5 1313.5,579.6 1314.2,582.0 1314.6,584.7 1315.1,582.1 1315.9,581.3 1317.2,578.0 1318.0,576.2 1319.4,574.8 1320.4,574.8 1322.3,572.8 1324.5,574.2 1326.6,573.6 1327.7,572.2 1328.6,569.2 1330.0,568.5 1331.7,567.6 1332.5,565.1 1333.4,567.9 1335.0,568.5 1335.8,571.9 1336.8,572.8 1337.3,576.2 1337.6,577.3 1338.6,579.3 1338.7,583.1 1339.4,584.7 1341.5,586.6 1343.6,587.3 1343.8,584.2 1344.3,581.8 1345.4,579.6 1345.4,576.8 1345.8,575.0 1346.2,572.8 1346.4,569.4 1346.5,568.7 1347.1,565.0 1347.2,562.7 1347.9,560.8 1349.7,561.1 1352.1,563.4 1352.7,560.9 1352.6,559.6 1353.0,556.5 1354.2,554.0 1354.2,553.5 1354.7,550.6 1356.4,548.9 1357.3,550.2 1357.3,553.5 1357.8,556.0 1358.2,558.1 1359.0,559.1 1360.7,558.5 1362.4,559.1 1363.5,556.0 1364.9,554.0 1365.8,552.3 1367.9,553.8 1369.2,554.9 1370.2,556.0 1371.6,557.7 1372.6,560.0 1374.3,558.7 1375.2,559.1 1375.7,556.8 1375.9,554.9 1376.6,552.3 1377.3,549.2 1377.7,547.2 1378.1,544.0 1378.5,543.4 1379.4,540.4 1379.5,543.1 1379.6,545.2 1380.2,547.4 1380.5,548.8 1380.8,551.5 1380.9,554.9 1381.4,556.5 1382.0,559.1 1382.8,561.8 1383.1,564.0 1382.6,564.8 1382.8,567.7 1383.7,569.4 1384.4,566.8 1384.7,565.2 1385.6,562.0 1386.3,559.9 1386.7,557.3 1387.1,555.7 1387.5,554.7 1389.1,552.3 1389.1,548.9 1390.5,548.0 1391.3,545.4 1392.6,543.8 1393.9,542.1 1394.1,539.6 1395.4,537.3 1396.3,536.1 1396.9,533.3 1397.3,531.8 1397.7,529.9 1398.0,526.2 1399.0,525.6 1398.8,521.7 1399.9,520.7 1399.9,518.2 1400.5,515.4 1401.7,514.3 1403.3,511.4 1404.1,510.1 1405.9,506.1 1407.0,504.6 1407.9,502.6 1410.3,502.1 1412.2,500.1 1412.4,497.3 1413.5,496.1 1413.9,494.7 1413.9,492.4 1415.6,494.3 1416.8,494.6 1418.1,495.8 1418.7,494.2 1420.3,491.8 1421.5,489.8 1422.4,486.4 1422.6,483.7 1423.0,482.8 1423.2,479.6 1424.7,480.6 1426.7,481.3 1428.1,483.5 1428.4,484.6 1428.8,486.8 1430.1,489.0 1431.7,486.6 1433.5,485.6 1433.4,487.1 1434.0,490.6 1433.7,492.0 1434.1,494.8 1434.7,497.0 1434.2,500.5 1434.2,502.1 1434.7,504.3 1435.1,507.4 1436.0,509.7 1436.1,511.9 1437.2,513.8 1437.7,516.3 1438.6,519.0 1438.4,519.8 1439.4,522.2 1441.0,522.0 1442.9,523.1 1443.8,524.3 1445.4,526.9 1447.1,528.2 1448.7,528.2 1450.5,529.9 1450.9,532.1 1451.5,533.7 1452.2,536.7 1452.2,533.5 1453.6,533.0 1453.0,530.8 1453.9,528.2 1454.7,526.1 1454.0,523.6 1454.7,520.7 1455.1,518.1 1455.8,517.2 1455.6,514.6 1456.2,513.4 1456.6,509.8 1456.6,507.4 1457.3,506.0 1457.4,504.5 1459.0,501.3 1458.9,499.9 1459.9,497.5 1460.8,496.7 1460.7,494.7 1461.6,492.4 1463.7,493.8 1465.0,494.1 1465.2,495.5 1466.2,498.0 1466.1,500.6 1466.7,502.6 1466.9,500.8 1467.1,496.5 1467.8,495.2 1468.4,492.8 1468.4,489.8 1470.0,492.2 1470.7,492.7 1471.8,494.1 1472.6,492.0 1474.2,489.8 1475.3,489.0 1477.2,487.0 1478.7,486.4 1480.3,486.6 1482.1,484.7 1483.3,484.1 1485.5,485.6 1486.6,483.2 1488.0,481.1 1488.9,480.5 1490.4,483.5 1491.5,484.9 1492.3,487.3 1493.2,489.6 1494.6,491.1 1495.7,493.2 1496.2,491.2 1497.2,490.1 1498.1,486.8 1498.3,485.6 1498.9,484.2 1500.0,483.0 1500.9,484.6 1501.4,485.9 1502.4,488.7 1503.4,490.7 1505.6,492.4 1506.8,492.4 1509.4,493.8 1511.1,493.2 1512.0,495.6 1512.3,496.5 1512.5,499.8 1512.5,501.9 1513.7,503.8 1513.6,506.0 1514.6,503.9 1515.2,503.4 1516.2,500.9 1517.4,499.0 1519.6,498.4 1520.9,499.7 1521.4,501.6 1523.0,502.6 1523.5,504.9 1524.2,507.0 1524.9,508.8 1525.5,511.2 1525.4,512.9 1526.6,516.1 1526.2,519.1 1526.7,519.8 1527.3,523.1 1529.0,524.0 1530.7,526.0 1532.4,527.3 1532.9,529.7 1533.4,532.0 1534.3,533.9 1534.9,536.7 1535.2,538.3 1535.5,541.2 1535.9,543.1 1536.4,544.5 1536.6,547.0 1537.5,549.4 1537.7,551.6 1538.5,553.0 1539.2,555.5 1540.1,557.7 1540.6,559.4 1541.2,561.4 1541.7,564.0 1542.2,566.0 1542.7,568.4 1543.5,570.2 1544.3,572.5 1545.1,574.6 1545.8,576.9 1546.5,579.0 1546.9,581.1 1547.8,583.6 1548.0,585.6 1548.7,587.8 1549.4,589.6 1550.1,592.1 1550.5,593.7 1551.5,596.5 1552.0,598.1 1552.6,599.6 1553.1,601.7 1553.5,604.6 1553.8,606.7 1554.5,608.3 1555.5,610.3 1556.1,612.8 1557.1,615.2" fill="none" stroke="#3BAEDA" stroke-width="6.8" stroke-linejoin="round" stroke-linecap="round"/>
<rect x="811.2" y="244" width="787" height="106.3" fill="none" stroke="#000" stroke-width="2.4"/>
<text x="875.40" y="288.00" font-size="41.50" fill="#000" stroke="#000" stroke-width="0.60" stroke-linejoin="round" textLength="20.58" lengthAdjust="spacingAndGlyphs">3</text>
<text x="898.06" y="286.00" font-size="34.00" font-weight="500" fill="#000" stroke="#000" stroke-width="0.50" stroke-linejoin="round" textLength="635.70" lengthAdjust="spacingAndGlyphs">个月欧洲美元避险大户期货净留仓大减</text>
<text x="830.24" y="331.00" font-size="34.00" font-weight="500" fill="#000" stroke="#000" stroke-width="0.50" stroke-linejoin="round" textLength="748.70" lengthAdjust="spacingAndGlyphs">透露景气趋缓<tspan lang="zh-Hant" style="font-family:'Noto Sans CJK TC',sans-serif">，</tspan>降息概率升温<tspan lang="zh-Hant" style="font-family:'Noto Sans CJK TC',sans-serif">，</tspan>领先美股下跌</text>
<line x1="432.5" y1="449.3" x2="432.5" y2="512.1" stroke="#000" stroke-width="3"/>
<polygon points="425.9,511.1 439.1,511.1 432.5,523.2" fill="#000"/>
<line x1="811.5" y1="438.2" x2="811.5" y2="501.0" stroke="#000" stroke-width="3"/>
<polygon points="804.9,500.0 818.1,500.0 811.5,512.1" fill="#000"/>
<line x1="1151.5" y1="449.3" x2="1151.5" y2="512.1" stroke="#000" stroke-width="3"/>
<polygon points="1144.9,511.1 1158.1,511.1 1151.5,523.2" fill="#000"/>
<line x1="1276.5" y1="425.1" x2="1276.5" y2="488.2" stroke="#000" stroke-width="3"/>
<polygon points="1269.9,487.2 1283.1,487.2 1276.5,499.3" fill="#000"/>
<line x1="1492.5" y1="388.2" x2="1492.5" y2="451.0" stroke="#000" stroke-width="3"/>
<polygon points="1485.9,450.0 1499.1,450.0 1492.5,462.2" fill="#000"/>
<ellipse cx="528.7" cy="653.6" rx="68.7" ry="82.1" fill="none" stroke="#000" stroke-width="2" stroke-dasharray="8 6"/>
<ellipse cx="925.0" cy="654.1" rx="68.5" ry="82.5" fill="none" stroke="#000" stroke-width="2" stroke-dasharray="8 6"/>
<ellipse cx="1357.6" cy="580.5" rx="68.9" ry="81.8" fill="none" stroke="#000" stroke-width="2" stroke-dasharray="8 6"/>
<line x1="265.2" y1="903.4" x2="315.7" y2="903.4" stroke="#E8563E" stroke-width="6.4"/>
<circle cx="290.3" cy="903.4" r="12.8" fill="#E8563E"/>
<text x="331.49" y="916.00" font-size="42.00" font-weight="700" fill="#333" textLength="51.37" lengthAdjust="spacingAndGlyphs">US</text>
<text x="394.27" y="916.00" font-size="42.00" font-weight="700" fill="#333" textLength="81.44" lengthAdjust="spacingAndGlyphs">S&amp;P</text>
<text x="488.15" y="916.00" font-size="42.00" font-weight="700" fill="#333" textLength="68.17" lengthAdjust="spacingAndGlyphs">500</text>
<text x="568.33" y="915.00" font-size="39.00" font-weight="700" fill="#333" textLength="9.60" lengthAdjust="spacingAndGlyphs">(</text>
<text x="581.05" y="916.00" font-size="42.00" font-weight="700" fill="#333" textLength="22.42" lengthAdjust="spacingAndGlyphs">L</text>
<text x="606.28" y="915.00" font-size="39.00" font-weight="700" fill="#333" textLength="9.63" lengthAdjust="spacingAndGlyphs">)</text>
<line x1="679.1" y1="903.4" x2="729.5" y2="903.4" stroke="#3BAEDA" stroke-width="6.4"/>
<polygon points="704.3,890.6 714.6,903.4 704.3,916.2 694.0,903.4" fill="#3BAEDA"/>
<text x="740.60" y="916.00" font-size="41.85" fill="#333" stroke="#333" stroke-width="0.50" stroke-linejoin="round" textLength="21.23" lengthAdjust="spacingAndGlyphs">3</text>
<text x="763.53" y="915.00" font-size="36.31" font-weight="500" fill="#333" textLength="847.25" lengthAdjust="spacingAndGlyphs">个月欧洲美元避险大户期货净留仓占总未平仓比例</text>
<text x="1622.31" y="914.00" font-size="37.20" fill="#333" stroke="#333" stroke-width="2.00" stroke-linejoin="round" textLength="6.05" lengthAdjust="spacingAndGlyphs">(</text>
<text x="1634.25" y="915.00" font-size="40.60" fill="#333" stroke="#333" stroke-width="1.00" stroke-linejoin="round" textLength="25.90" lengthAdjust="spacingAndGlyphs">R</text>
<text x="1665.78" y="914.00" font-size="37.20" fill="#333" stroke="#333" stroke-width="2.00" stroke-linejoin="round" textLength="6.08" lengthAdjust="spacingAndGlyphs">)</text>
</svg></body></html>
